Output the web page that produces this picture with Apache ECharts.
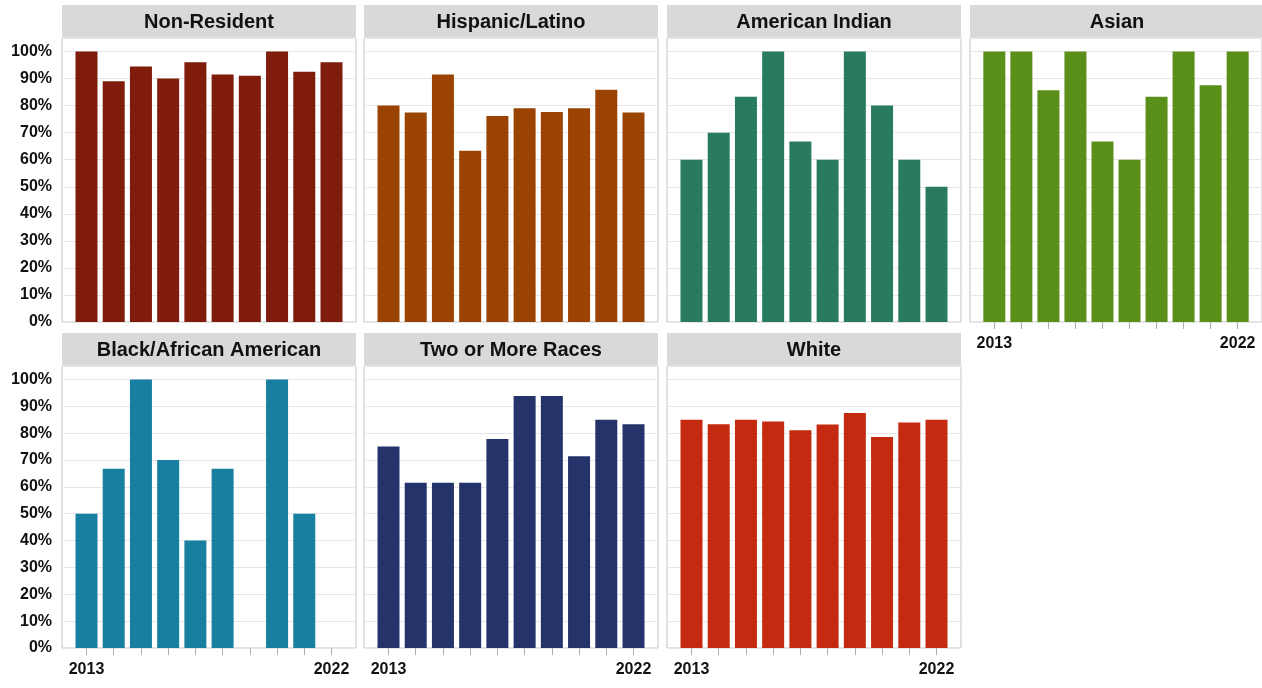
<!DOCTYPE html>
<html>
<head>
<meta charset="utf-8">
<script src="https://cdn.jsdelivr.net/npm/echarts@6/dist/echarts.min.js"></script>
<style>
html, body { margin: 0; padding: 0; background: #fff; }
#chart { width: 1262px; height: 688px; }
</style>
</head>
<body>
<div id="chart"></div>
<script>
// data
const years = [2013, 2014, 2015, 2016, 2017, 2018, 2019, 2020, 2021, 2022];
const yearLabels = [2013, 2022];
const yTicks = [0, 10, 20, 30, 40, 50, 60, 70, 80, 90, 100];

const panelNames = ['Non-Resident', 'Hispanic/Latino', 'American Indian', 'Asian',
                    'Black/African American', 'Two or More Races', 'White'];

const nonResident   = [100, 89, 94.5, 90, 96, 91.5, 91, 100, 92.5, 96];
const hispanic      = [80, 77.5, 91.5, 63.3, 76.2, 79, 77.6, 79, 85.9, 77.5];
const americanInd   = [60, 70, 83.3, 100, 66.7, 60, 100, 80, 60, 50];
const asian         = [100, 100, 85.7, 100, 66.7, 60, 83.3, 100, 87.5, 100];
const black         = [50, 66.7, 100, 70, 40, 66.7, null, 100, 50, null];
const twoOrMore     = [75, 61.5, 61.5, 61.5, 77.8, 93.8, 93.8, 71.4, 85, 83.3];
const white         = [85, 83.3, 85, 84.3, 81.1, 83.2, 87.5, 78.6, 84, 85];

const panelValues = [nonResident, hispanic, americanInd, asian, black, twoOrMore, white];
const panelColors = ['#7f1c0c', '#9a4303', '#287a61', '#5a8f19', '#187fa1', '#24346a', '#c42a0f'];

// layout
const colLeft = [62, 364, 667, 970];
const panelW = 294;
const headTop = [5, 333];
const headH = 32;
const plotTop = [38, 366];
const plotH = [284, 282];
const titleFont = 'bold 20px "Liberation Sans", Arial, sans-serif';
const labelFamily = '"Liberation Sans", Arial, sans-serif';

var dom = document.getElementById('chart');
var myChart = echarts.init(dom);

var grids = [], xAxes = [], yAxes = [], series = [], graphics = [];

for (var i = 0; i < panelNames.length; ++i) {
    var row = i < 4 ? 0 : 1;
    var col = i < 4 ? i : i - 4;
    var left = colLeft[col];
    var showX = (i >= 3);

    grids.push({
        left: left,
        top: plotTop[row],
        width: panelW,
        height: plotH[row],
        show: true,
        borderColor: '#c4c4c4',
        borderWidth: 1,
        backgroundColor: '#fff'
    });

    xAxes.push({
        type: 'value',
        gridIndex: i,
        min: 2012.1,
        max: 2022.9,
        axisLine: { show: false },
        splitLine: { show: false },
        axisTick: {
            show: showX,
            customValues: years,
            length: 7,
            lineStyle: { color: '#b0b0b0' }
        },
        axisLabel: {
            show: showX,
            customValues: yearLabels,
            margin: 14,
            color: '#111',
            fontFamily: labelFamily,
            fontWeight: 'bold',
            fontSize: 16,
            formatter: function (v) { return String(v); }
        }
    });

    yAxes.push({
        type: 'value',
        gridIndex: i,
        min: 0,
        max: 105,
        interval: 10,
        axisLine: { show: false },
        axisTick: { show: false },
        splitLine: { lineStyle: { color: '#e6e6e6' } },
        axisLabel: {
            show: col === 0,
            margin: 10,
            color: '#111',
            fontFamily: labelFamily,
            fontWeight: 'bold',
            fontSize: 16,
            formatter: function (v) { return v > 100 ? '' : v + '%'; }
        }
    });

    series.push({
        name: panelNames[i],
        type: 'bar',
        xAxisIndex: i,
        yAxisIndex: i,
        barWidth: 22,
        itemStyle: { color: panelColors[i] },
        data: years.map(function (y, k) { return [y, panelValues[i][k]]; })
    });

    graphics.push({
        type: 'group',
        children: [
            {
                type: 'rect',
                shape: { x: left, y: headTop[row], width: panelW, height: headH },
                style: { fill: '#d9d9d9' }
            },
            {
                type: 'text',
                x: left + panelW / 2,
                y: headTop[row] + headH / 2 + 1,
                style: {
                    text: panelNames[i],
                    font: titleFont,
                    fill: '#111',
                    align: 'center',
                    verticalAlign: 'middle'
                }
            }
        ]
    });
}

var option = {
    animation: false,
    grid: grids,
    xAxis: xAxes,
    yAxis: yAxes,
    series: series,
    graphic: graphics
};

myChart.setOption(option, true);
</script>
</body>
</html>
